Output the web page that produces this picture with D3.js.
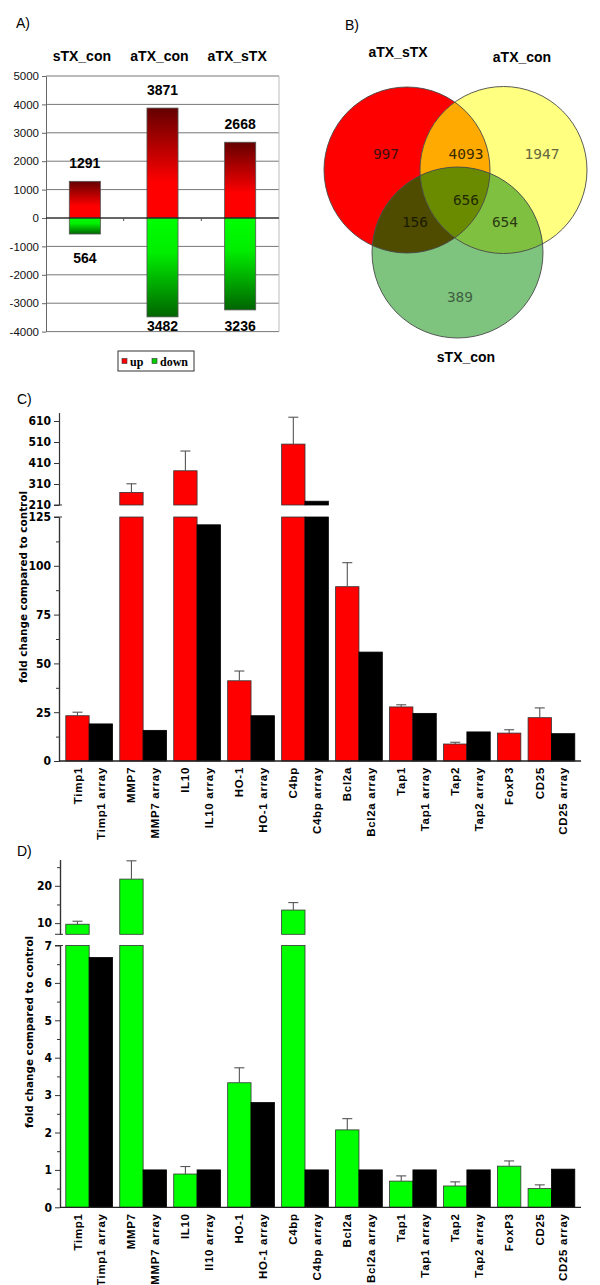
<!DOCTYPE html>
<html><head><meta charset="utf-8">
<script src="https://cdn.jsdelivr.net/npm/d3@7"></script>
<style>body{margin:0;background:#fff}</style>
</head><body>
<svg id="c" width="600" height="1285"></svg>
<script>
// ---------- Panel A data ----------
const aCategories = ["sTX_con", "aTX_con", "aTX_sTX"];
const aUp = [1291, 3871, 2668];
const aDown = [564, 3482, 3236];
const aTicks = [5000, 4000, 3000, 2000, 1000, 0, -1000, -2000, -3000, -4000];
const aLegend = ["up", "down"];

// ---------- Panel B data ----------
const vennSets = ["aTX_sTX", "aTX_con", "sTX_con"];
const vennRegions = ["A", "AB", "B", "ABC", "AC", "BC", "C"];
const vennCounts = [997, 4093, 1947, 656, 156, 654, 389];

// ---------- Panel C data ----------
const catsC = ["Timp1","Timp1 array","MMP7","MMP7 array","IL10","IL10 array","HO-1","HO-1 array","C4bp","C4bp array","Bcl2a","Bcl2a array","Tap1","Tap1 array","Tap2","Tap2 array","FoxP3","CD25","CD25 array"];
const valuesC = [23.2, 19.0, 270, 15.7, 373, 121, 41.1, 23.2, 500, 228, 89.3, 55.8, 27.7, 24.4, 8.7, 14.9, 14.3, 22.2, 14.0];
const errorsC = [1.8, null, 41, null, 94, null, 5, null, 128, null, 12.3, null, 1.1, null, 0.9, null, 1.7, 5, null];
const ticksCLower = [0, 25, 50, 75, 100, 125];
const minorCLower = [12.5, 37.5, 62.5, 87.5, 112.5];
const ticksCUpper = [210, 310, 410, 510, 610];

// ---------- Panel D data ----------
const catsD = ["Timp1","Timp1 array","MMP7","MMP7 array","IL10","Il10 array","HO-1","HO-1 array","C4bp","C4bp array","Bcl2a","Bcl2a array","Tap1","Tap1 array","Tap2","Tap2 array","FoxP3","CD25","CD25 array"];
const valuesD = [9.7, 6.68, 21.8, 1.0, 0.89, 1.0, 3.33, 2.8, 13.5, 1.0, 2.07, 1.0, 0.70, 1.0, 0.57, 1.0, 1.10, 0.50, 1.02];
const errorsD = [0.8, null, 4.9, null, 0.2, null, 0.4, null, 2.0, null, 0.3, null, 0.14, null, 0.11, null, 0.14, 0.1, null];
const ticksDLower = [0, 1, 2, 3, 4, 5, 6, 7];
const minorDLower = [0.5, 1.5, 2.5, 3.5, 4.5, 5.5, 6.5];
const ticksDUpper = [10, 20];
const minorDUpper = [15, 25];

const yTitle = "fold change compared to control";

const svg = d3.select("#c");
svg.append("rect").attr("width", 600).attr("height", 1285).attr("fill", "#fff");
const defs = svg.append("defs");
const SANS = "Arial, 'Liberation Sans', sans-serif";
const NARROW = "'Liberation Sans Narrow', 'DejaVu Sans Condensed', Arial, sans-serif";

// ================= Panel A =================
(function(){
  const g = svg.append("g");
  const left = 46, right = 279;
  const xA = d3.scaleBand().domain(aCategories).range([left, right]).paddingInner(0.6).paddingOuter(0.3);
  const yA = d3.scaleLinear().domain([-4000, 5000]).range([331.6, 76]);

  const gu = defs.append("linearGradient").attr("id", "gUp").attr("x1", 0).attr("y1", 0).attr("x2", 0).attr("y2", 1);
  gu.append("stop").attr("offset", 0).attr("stop-color", "#640000");
  gu.append("stop").attr("offset", 0.68).attr("stop-color", "#ff0000");
  gu.append("stop").attr("offset", 1).attr("stop-color", "#ff0000");
  const gd = defs.append("linearGradient").attr("id", "gDown").attr("x1", 0).attr("y1", 0).attr("x2", 0).attr("y2", 1);
  gd.append("stop").attr("offset", 0).attr("stop-color", "#00ff00");
  gd.append("stop").attr("offset", 0.35).attr("stop-color", "#00ee00");
  gd.append("stop").attr("offset", 1).attr("stop-color", "#006400");

  g.append("text").attr("x", 16).attr("y", 28).attr("font-family", SANS).attr("font-size", 14).text("A)");

  g.selectAll("line.grid").data(aTicks).join("line")
    .attr("x1", left).attr("x2", right).attr("y1", d => yA(d)).attr("y2", d => yA(d))
    .attr("stroke", "#777").attr("stroke-width", 1);
  g.append("line").attr("x1", right).attr("x2", right).attr("y1", yA(5000)).attr("y2", yA(-4000)).attr("stroke", "#bbb");

  const ax = d3.axisLeft(yA).tickValues(aTicks).tickSize(4).tickSizeOuter(0).tickPadding(3).tickFormat(d => String(d));
  g.append("g").attr("transform", `translate(${left},0)`).call(ax).call(s => {
    s.select(".domain").attr("stroke", "#666");
    s.selectAll(".tick line").attr("stroke", "#666");
    s.selectAll("text").attr("font-family", SANS).attr("font-size", 11.5).attr("fill", "#111");
  });

  g.selectAll("rect.up").data(aCategories).join("rect")
    .attr("x", d => xA(d)).attr("width", xA.bandwidth())
    .attr("y", (d, i) => yA(aUp[i])).attr("height", (d, i) => yA(0) - yA(aUp[i]))
    .attr("fill", "url(#gUp)").attr("stroke", "#555").attr("stroke-width", 0.8);
  g.selectAll("rect.down").data(aCategories).join("rect")
    .attr("x", d => xA(d)).attr("width", xA.bandwidth())
    .attr("y", yA(0)).attr("height", (d, i) => yA(-aDown[i]) - yA(0))
    .attr("fill", "url(#gDown)").attr("stroke", "#555").attr("stroke-width", 0.8);
  g.append("line").attr("x1", left).attr("x2", right).attr("y1", yA(0)).attr("y2", yA(0)).attr("stroke", "#111");
  const step = xA.step();
  g.selectAll("line.sep").data(aCategories.slice(1)).join("line")
    .attr("x1", d => xA(d) - xA.paddingInner() * step / 2).attr("x2", d => xA(d) - xA.paddingInner() * step / 2)
    .attr("y1", yA(0)).attr("y2", yA(0) + 3).attr("stroke", "#555");

  g.selectAll("text.ct").data(aCategories).join("text")
    .attr("x", d => xA(d) + xA.bandwidth() / 2 - 3).attr("y", 61).attr("text-anchor", "middle")
    .attr("font-family", SANS).attr("font-weight", "bold").attr("font-size", 14).text(d => d);

  g.selectAll("text.uv").data(aUp).join("text")
    .attr("x", (d, i) => xA(aCategories[i]) + xA.bandwidth() / 2).attr("y", d => yA(d) - 18)
    .attr("dy", "0.35em").attr("text-anchor", "middle")
    .attr("font-family", SANS).attr("font-weight", "bold").attr("font-size", 14).text(d => d);
  g.selectAll("text.dv").data(aDown).join("text")
    .attr("x", (d, i) => xA(aCategories[i]) + xA.bandwidth() / 2).attr("y", d => Math.min(yA(-d) + 24, yA(-3800)))
    .attr("dy", "0.35em").attr("text-anchor", "middle")
    .attr("font-family", SANS).attr("font-weight", "bold").attr("font-size", 14).text(d => d);

  const lg = g.append("g");
  lg.append("rect").attr("x", 118).attr("y", 351).attr("width", 76).attr("height", 20).attr("fill", "#fff").attr("stroke", "#333");
  const lx = [122, 152], lc = ["#ff0000", "#00cc00"];
  aLegend.forEach((t, i) => {
    lg.append("rect").attr("x", lx[i]).attr("y", 358.5).attr("width", 5).attr("height", 5).attr("fill", lc[i]).attr("stroke", "#333").attr("stroke-width", 0.6);
    lg.append("text").attr("x", lx[i] + 8).attr("y", 365.5).attr("font-family", "'Liberation Serif', 'Times New Roman', serif")
      .attr("font-weight", "bold").attr("font-size", 12).text(t);
  });
})();

// ================= Panel B (Venn) =================
(function(){
  const g = svg.append("g");
  g.append("text").attr("x", 345).attr("y", 30).attr("font-family", SANS).attr("font-size", 14).text("B)");
  const circ = [{cx: 407, cy: 170, r: 83}, {cx: 503.5, cy: 170, r: 83.5}, {cx: 457.5, cy: 252.5, r: 85.5}];
  const ids = ["vA", "vB", "vC"];
  circ.forEach((c, i) => {
    defs.append("clipPath").attr("id", ids[i]).append("circle").attr("cx", c.cx).attr("cy", c.cy).attr("r", c.r);
  });
  const fills = {A: "#ff0000", B: "#ffff80", C: "#7ec47e", AB: "#ffaa00", AC: "#4f4c00", BC: "#80c040", ABC: "#6a8a00"};
  const circle = (sel, c, fill) => sel.append("circle").attr("cx", c.cx).attr("cy", c.cy).attr("r", c.r).attr("fill", fill);
  circle(g, circ[0], fills.A);
  circle(g, circ[1], fills.B);
  circle(g, circ[2], fills.C);
  circle(g.append("g").attr("clip-path", "url(#vA)"), circ[1], fills.AB);
  circle(g.append("g").attr("clip-path", "url(#vA)"), circ[2], fills.AC);
  circle(g.append("g").attr("clip-path", "url(#vB)"), circ[2], fills.BC);
  circle(g.append("g").attr("clip-path", "url(#vB)").append("g").attr("clip-path", "url(#vA)"), circ[2], fills.ABC);
  circ.forEach(c => g.append("circle").attr("cx", c.cx).attr("cy", c.cy).attr("r", c.r).attr("fill", "none").attr("stroke", "#4a4a4a").attr("stroke-width", 0.9));

  const setPos = [[398, 57], [522, 62], [466, 362]];
  vennSets.forEach((s, i) => g.append("text").attr("x", setPos[i][0]).attr("y", setPos[i][1]).attr("text-anchor", "middle")
    .attr("font-family", SANS).attr("font-weight", "bold").attr("font-size", 14).text(s));

  const regPos = {A: [386, 154], AB: [466, 154], B: [542, 154], ABC: [466, 200], AC: [415, 222], BC: [505, 222], C: [460, 297]};
  const regCol = {A: "#3a1010", AB: "#3a2a00", B: "#666640", ABC: "#1e2a00", AC: "#1a1a00", BC: "#2a3a10", C: "#3f5f3f"};
  vennRegions.forEach((r, i) => g.append("text").attr("x", regPos[r][0]).attr("y", regPos[r][1]).attr("dy", "0.35em")
    .attr("text-anchor", "middle").attr("font-family", "'DejaVu Sans Mono', 'Liberation Mono', monospace")
    .attr("font-size", 14.5).attr("fill", regCol[r]).text(vennCounts[i]));
})();

// ================= Panels C & D (broken-axis bars) =================
function brokenChart(cfg) {
  const g = svg.append("g");
  const yL = d3.scaleLinear().domain(cfg.lower).range(cfg.lowerRange);
  const yU = d3.scaleLinear().domain(cfg.upper).range(cfg.upperRange);
  const GAP = 0.31;
  const pos = []; let u = 0;
  cfg.cats.forEach((c, i) => { if (i > 0 && !c.endsWith(" array")) u += GAP; pos.push(u); u += 1; });
  const xs = d3.scaleLinear().domain([0, u]).range([65.8, 574.8]);
  const bw = xs(1) - xs(0);
  const yOf = v => v <= cfg.lower[1] ? yL(v) : yU(v);
  const ax0 = cfg.axisX;
  const fmt = d => String(d);

  g.append("text").attr("x", 17).attr("y", cfg.labelY).attr("font-family", SANS).attr("font-size", 14).text(cfg.panel);

  cfg.cats.forEach((c, i) => {
    const v = cfg.vals[i];
    const isArr = c.endsWith(" array");
    const fill = isArr ? "#000" : cfg.color;
    const x = xs(pos[i]);
    const vl = Math.min(v, cfg.lower[1]);
    g.append("rect").attr("x", x).attr("width", bw).attr("y", yL(vl)).attr("height", yL(0) - yL(vl))
      .attr("fill", fill).attr("stroke", isArr ? "#000" : "#333").attr("stroke-width", 0.8);
    if (v > cfg.upper[0]) {
      g.append("rect").attr("x", x).attr("width", bw).attr("y", yU(v)).attr("height", yU(cfg.upper[0]) - yU(v))
        .attr("fill", fill).attr("stroke", isArr ? "#000" : "#333").attr("stroke-width", 0.8);
    }
    const e = cfg.errs[i];
    if (e) {
      const cx = x + bw / 2;
      g.append("line").attr("x1", cx).attr("x2", cx).attr("y1", yOf(v)).attr("y2", yOf(v + e)).attr("stroke", "#555").attr("stroke-width", 1.1);
      g.append("line").attr("x1", cx - 5).attr("x2", cx + 5).attr("y1", yOf(v + e)).attr("y2", yOf(v + e)).attr("stroke", "#555").attr("stroke-width", 1.1);
    }
    g.append("text").attr("transform", `translate(${x + bw / 2},${yL(0) + 6}) rotate(-90)`)
      .attr("text-anchor", "end").attr("dy", "0.35em").attr("letter-spacing", 0.7)
      .attr("font-family", SANS).attr("font-weight", "bold").attr("font-size", 11.5).text(c);
  });

  const styleAxis = s => {
    s.select(".domain").attr("stroke", "#333").attr("stroke-width", 1.2);
    s.selectAll(".tick line").attr("stroke", "#333");
    s.selectAll("text").attr("font-family", NARROW).attr("font-weight", "bold").attr("font-size", 12).attr("fill", "#000");
  };
  g.append("g").attr("transform", `translate(${ax0},0)`)
    .call(d3.axisLeft(yL).tickValues(cfg.ticksLow).tickSize(5).tickSizeOuter(0).tickPadding(3).tickFormat(fmt)).call(styleAxis);
  if (cfg.minorLow) g.append("g").attr("transform", `translate(${ax0},0)`)
    .call(d3.axisLeft(yL).tickValues(cfg.minorLow).tickSize(3).tickSizeOuter(0).tickFormat("")).call(styleAxis);
  g.append("g").attr("transform", `translate(${ax0},0)`)
    .call(d3.axisLeft(yU).tickValues(cfg.ticksUp).tickSize(5).tickSizeOuter(0).tickPadding(3).tickFormat(fmt)).call(styleAxis);
  if (cfg.minorUp) g.append("g").attr("transform", `translate(${ax0},0)`)
    .call(d3.axisLeft(yU).tickValues(cfg.minorUp).tickSize(3).tickSizeOuter(0).tickFormat("")).call(styleAxis);
  const yb = yU(cfg.upper[0]), yt = yL(cfg.lower[1]);
  g.append("line").attr("x1", ax0 - 5).attr("x2", ax0 + 3).attr("y1", yb).attr("y2", yb).attr("stroke", "#333");
  g.append("line").attr("x1", ax0 - 5).attr("x2", ax0 + 3).attr("y1", yt).attr("y2", yt).attr("stroke", "#333");
  g.append("line").attr("x1", ax0).attr("x2", 581).attr("y1", yL(0)).attr("y2", yL(0)).attr("stroke", "#222").attr("stroke-width", 1.3);
  g.append("text").attr("transform", `translate(${cfg.titleX},${cfg.titleY}) rotate(-90)`)
    .attr("text-anchor", "middle").attr("dy", "0.35em")
    .attr("font-family", "'DejaVu Sans', Verdana, sans-serif").attr("font-weight", "bold").attr("font-size", 10)
    .attr("textLength", 192).attr("lengthAdjust", "spacingAndGlyphs").text(yTitle);
}

brokenChart({
  panel: "C)", labelY: 404, cats: catsC, vals: valuesC, errs: errorsC, color: "#ff0000",
  lower: [0, 125], lowerRange: [761, 517], upper: [210, 650], upperRange: [505, 412.6],
  ticksLow: ticksCLower, minorLow: minorCLower, ticksUp: ticksCUpper, minorUp: null,
  axisX: 59, titleX: 23, titleY: 587
});
brokenChart({
  panel: "D)", labelY: 856, cats: catsD, vals: valuesD, errs: errorsD, color: "#00ff00",
  lower: [0, 7], lowerRange: [1207.3, 945.5], upper: [7, 27], upperRange: [934.3, 859.7],
  ticksLow: ticksDLower, minorLow: minorDLower, ticksUp: ticksDUpper, minorUp: minorDUpper,
  axisX: 60, titleX: 29.5, titleY: 1032
});
</script>
</body></html>
